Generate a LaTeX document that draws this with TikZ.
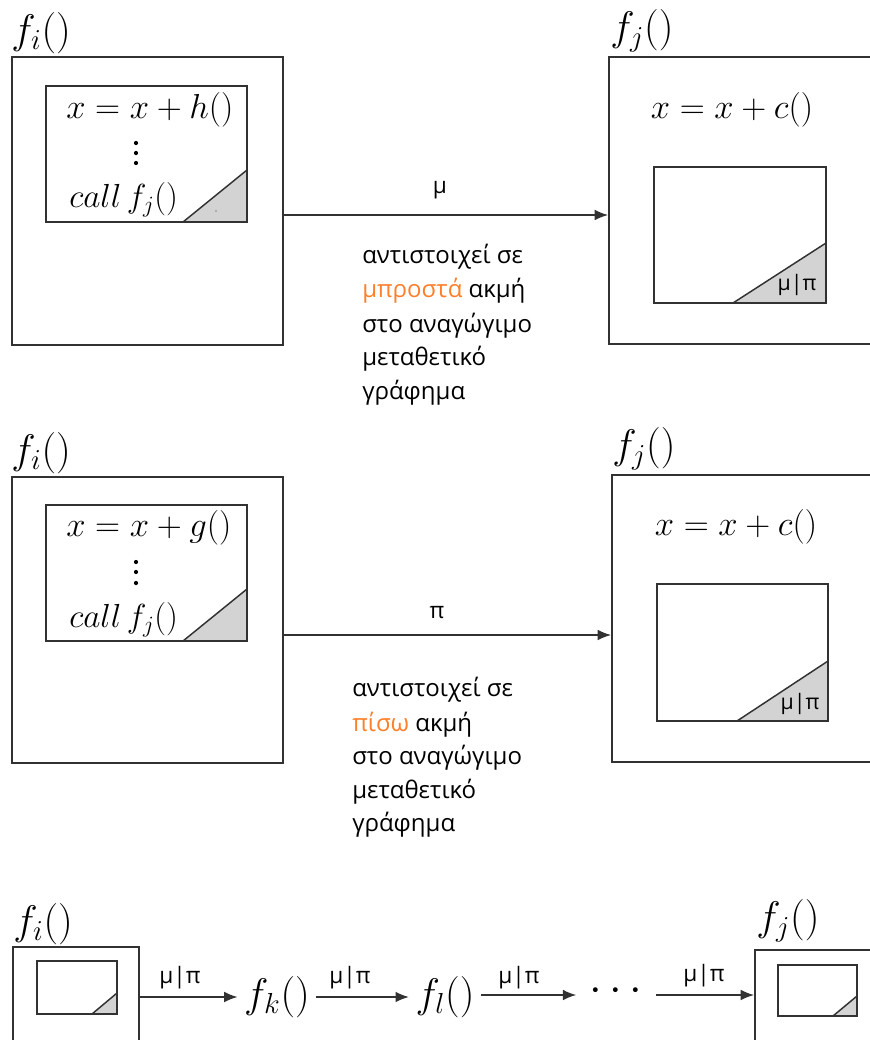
\RequirePackage{fix-cm}
\documentclass[tikz,border=0pt]{standalone}
\usepackage{fontspec}
\newfontfamily\gr{Open Sans}
\usetikzlibrary{arrows.meta,fit}
\definecolor{ln}{RGB}{50,50,50}
\definecolor{org}{RGB}{255,127,42}
\definecolor{trif}{RGB}{211,211,211}
\begin{document}
\begin{tikzpicture}[x=0.75pt,y=-0.75pt,
 box/.style={draw=ln, line width=1.4pt, inner sep=0pt},
 ibox/.style={draw=ln, line width=1.3pt, inner sep=0pt},
 tri/.style={fill=trif, draw=ln, line width=1.1pt},
 arr/.style={draw=ln, line width=1.1pt, -{Latex[length=10pt,width=8pt]}},
 fl/.style={font=\fontsize{31}{36}\selectfont, inner sep=0pt},
 mt/.style={font=\fontsize{26}{30}\selectfont, inner sep=0pt},
 ct/.style={font=\fontsize{25}{30}\selectfont, inner sep=0pt},
 gt/.style={font=\gr\fontsize{18}{22}\selectfont, anchor=west, inner sep=0pt},
 lb/.style={font=\gr\fontsize{17}{20}\selectfont, inner sep=0pt},
 sl/.style={font=\gr\fontsize{16}{19}\selectfont, inner sep=0pt}]
\clip (0,0) rectangle (870,1040);
% ---------- section 1 ----------
\node[fl, anchor=west] (L1) at (11,33) {$f_i()$};
\node[box, fit={(12,57)(283,345)}] (A1) {};
\filldraw[tri] (183,222) -- (247,170) -- (247,222) -- cycle;
\fill[ln] (216,211) circle (0.6);
\node[ibox, fit={(46,86)(247,222)}] (a1) {};
\node[mt, anchor=west] (t1) at (66,110) {$x = x + h()$};
\foreach \yy in {143,153,163} \fill (136,\yy) circle (2.1);
\node[ct, anchor=west] (c1) at (69,200) {$call\,f_j()$};

\node[fl, anchor=west] (R1) at (610,31) {$f_j()$};
\node[box, fit={(609,57)(890,344)}] (B1) {};
\filldraw[tri] (733,303) -- (826,243) -- (826,303) -- cycle;
\node[ibox, fit={(654,167)(826,303)}] (b1) {};
\node[sl] (s1) at (797,285) {μ|π};
\node[mt] (u1) at (732,110) {$x = x + c()$};

\coordinate (y1) at (0,215);
\draw[arr] (A1.east |- y1) -- (B1.west |- y1);
\node[lb] (m1) at (440,190) {μ};
\node[gt] (g11) at (362,257) {αντιστοιχεί σε};
\node[gt] (g12) at (362,291) {\textcolor{org}{μπροστά} ακμή};
\node[gt] (g13) at (362,326) {στο αναγώγιμο};
\node[gt] (g14) at (362,359) {μεταθετικό};
\node[gt] (g15) at (362,393) {γράφημα};

% ---------- section 2 ----------
\node[fl, anchor=west] (L2) at (11,453) {$f_i()$};
\node[box, fit={(12,477)(283,763)}] (A2) {};
\filldraw[tri] (183,641) -- (247,589) -- (247,641) -- cycle;
\node[ibox, fit={(46,505)(247,641)}] (a2) {};
\node[mt, anchor=west] (t2) at (66,528) {$x = x + g()$};
\foreach \yy in {562,572,583} \fill (136,\yy) circle (2.1);
\node[ct, anchor=west] (c2) at (69,620) {$call\,f_j()$};

\node[fl, anchor=west] (R2) at (612,449) {$f_j()$};
\node[box, fit={(612,475)(890,762)}] (B2) {};
\filldraw[tri] (737,721) -- (828,661) -- (828,721) -- cycle;
\node[ibox, fit={(657,584)(828,721)}] (b2) {};
\node[sl] (s2) at (800,704) {μ|π};
\node[mt] (u2) at (736,527) {$x = x + c()$};

\coordinate (y2) at (0,635);
\draw[arr] (A2.east |- y2) -- (B2.west |- y2);
\node[lb] (m2) at (437,613) {π};
\node[gt] (g21) at (352,690) {αντιστοιχεί σε};
\node[gt] (g22) at (352,725) {\textcolor{org}{πίσω} ακμή};
\node[gt] (g23) at (352,758) {στο αναγώγιμο};
\node[gt] (g24) at (352,792) {μεταθετικό};
\node[gt] (g25) at (352,825) {γράφημα};

% ---------- section 3 ----------
\node[fl, anchor=west] (L3) at (13,924) {$f_i()$};
\node[box, fit={(13,947)(139,1060)}] (A3) {};
\filldraw[tri] (92,1014) -- (117,993) -- (117,1014) -- cycle;
\node[ibox, fit={(37,961)(117,1014)}] (a3) {};

\node[fl, outer xsep=5pt] (fk) at (277,997) {$f_k()$};
\node[fl, outer xsep=5pt] (fl) at (445,997) {$f_l()$};
\node[inner sep=0pt, outer xsep=10pt, font=\fontsize{34}{38}\selectfont] (dd) at (616,991) {$\cdots$};

\node[fl, anchor=west] (R3) at (756,921) {$f_j()$};
\node[box, fit={(755,950)(890,1060)}] (B3) {};
\filldraw[tri] (833,1016) -- (857,996) -- (857,1016) -- cycle;
\node[ibox, fit={(778,965)(857,1016)}] (b3) {};

\coordinate (y3) at (0,997);
\coordinate (y4) at (0,995);
\draw[arr] (A3.east |- y3) -- (fk.west |- y3);
\draw[arr] (fk.east |- y3) -- (fl.west |- y3);
\draw[arr] (fl.east |- y4) -- (dd.west |- y4);
\draw[arr] (dd.east |- y4) -- (B3.west |- y4);
\node[lb] (n1) at (180,978) {μ|π};
\node[lb] (n2) at (350,978) {μ|π};
\node[lb] (n3) at (519,978) {μ|π};
\node[lb] (n4) at (704,976) {μ|π};
\end{tikzpicture}
\end{document}
